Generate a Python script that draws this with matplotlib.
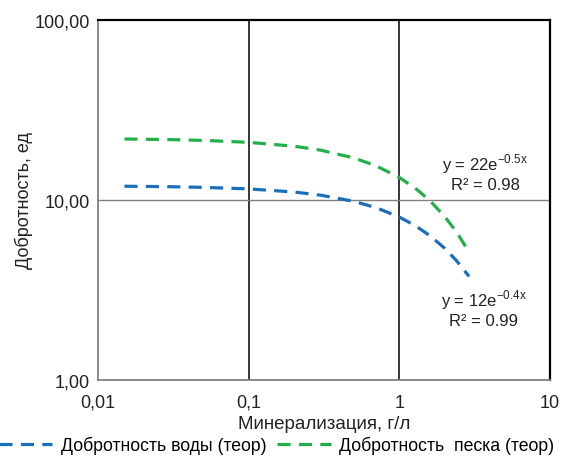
import matplotlib
matplotlib.use("Agg")
import matplotlib.pyplot as plt
from matplotlib.ticker import FixedLocator, FixedFormatter, NullLocator

plt.rcParams['font.family'] = ['Liberation Sans', 'DejaVu Sans']

# trend curves: mineralization (g/l) vs quality factor
mineral = [0.015, 0.03, 0.05, 0.1, 0.2, 0.3, 0.5, 0.7, 1.0, 1.3, 1.6, 2.0, 2.4, 2.9]
q_water = [11.93, 11.86, 11.76, 11.53, 11.08, 10.64, 9.83, 9.07, 8.04, 7.13, 6.32, 5.39, 4.59, 3.76]
q_sand = [21.84, 21.67, 21.46, 20.93, 19.91, 18.94, 17.13, 15.50, 13.34, 11.48, 9.89, 8.09, 6.63, 5.13]

x_ticks = [0.01, 0.1, 1, 10]
x_labels = ['0,01', '0,1', '1', '10']
y_ticks = [1, 10, 100]
y_labels = ['1,00', '10,00', '100,00']

series_names = ['Добротность воды (теор)', 'Добротность  песка (теор)']
eq_water = [r'y = 12e$^{\mathregular{-0.4x}}$', 'R² = 0.99']
eq_sand = [r'y = 22e$^{\mathregular{-0.5x}}$', 'R² = 0.98']

fig = plt.figure(figsize=(5.76, 4.6), dpi=100)
ax = fig.add_axes([0.170, 0.172, 0.785, 0.782])
ax.set_xscale('log')
ax.set_yscale('log')
ax.set_xlim(0.01, 10)
ax.set_ylim(1, 100)

# grid lines like the original chart
for xv in [0.1, 1]:
    ax.axvline(xv, color='black', lw=1.1, zorder=1)
ax.axhline(10, color='#808080', lw=1.0, zorder=1)

dash = (0, (4.1, 2.6))
ax.plot(mineral, q_water, color='#1a6fba', lw=2.3, ls=dash,
        label=series_names[0], zorder=3)
ax.plot(mineral, q_sand, color='#22b04a', lw=2.3, ls=dash,
        label=series_names[1], zorder=3)

ax.xaxis.set_major_locator(FixedLocator(x_ticks))
ax.xaxis.set_major_formatter(FixedFormatter(x_labels))
ax.xaxis.set_minor_locator(NullLocator())
ax.yaxis.set_major_locator(FixedLocator(y_ticks))
ax.yaxis.set_major_formatter(FixedFormatter(y_labels))
ax.yaxis.set_minor_locator(NullLocator())
ax.tick_params(length=0, labelsize=13, colors='#222222')
ax.tick_params(axis='y', pad=6)
ax.tick_params(axis='x', pad=10)

for s in ['left', 'bottom']:
    ax.spines[s].set_color('#808080')
    ax.spines[s].set_linewidth(1.3)
for s in ['top', 'right']:
    ax.spines[s].set_color('black')
    ax.spines[s].set_linewidth(1.6)

ax.set_xlabel('Минерализация, г/л', fontsize=13.5, color='#222222', labelpad=3)
ax.set_ylabel('Добротность, ед', fontsize=13, color='#222222', labelpad=1)

# trendline equations
ax.text(0.856, 0.578, eq_sand[0] + '\n' + eq_sand[1], transform=ax.transAxes,
        ha='center', va='center', fontsize=12, color='#222222', linespacing=1.15)
ax.text(0.853, 0.2, eq_water[0] + '\n' + eq_water[1], transform=ax.transAxes,
        ha='center', va='center', fontsize=12, color='#222222', linespacing=1.15)

fig.legend(loc='center', bbox_to_anchor=(0.48, 0.03), ncol=2, frameon=False,
           fontsize=12.7, handlelength=3.05, handletextpad=0.5, columnspacing=0.57,
           borderpad=0.1)

fig.savefig('out.png', dpi=100)
